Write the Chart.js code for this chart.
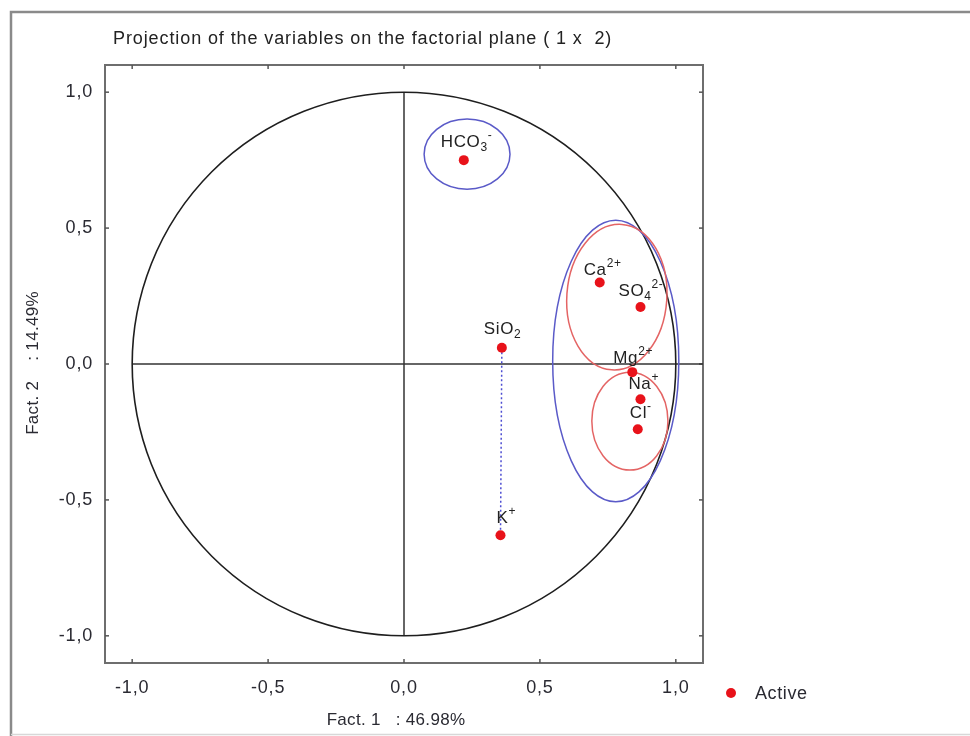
<!DOCTYPE html>
<html>
<head>
<meta charset="utf-8">
<script src="https://cdn.jsdelivr.net/npm/chart.js@4.4.1/dist/chart.umd.min.js"></script>
<style>
  html, body { margin: 0; padding: 0; background: #fff; }
  canvas { display: block; }
</style>
</head>
<body>
<canvas id="c" width="970" height="736"></canvas>
<script>
// Variable names, written as base|subscript|superscript
const variables = ['HCO|3|-', 'Ca||2+', 'SO|4|2-', 'Mg||2+', 'Na||+', 'Cl||-', 'SiO|2|', 'K||+'];
// Coordinates of each variable on factor 1 and factor 2
const fact1 = [0.22, 0.72, 0.87, 0.84, 0.87, 0.86, 0.36, 0.355];
const fact2 = [0.75, 0.30, 0.21, -0.03, -0.13, -0.24, 0.06, -0.63];
const tickValues = [-1, -0.5, 0, 0.5, 1];
const seriesName = 'Active';
const chartTitle = 'Projection of the variables on the factorial plane ( 1 x  2)';
const xTitle = 'Fact. 1   : 46.98%';
const yTitle = 'Fact. 2    : 14.49%';

// Label anchor (left edge, baseline) relative to each point, in pixels
const labelOffsets = [[-23, -13], [-16, -7], [-22, -11], [-19, -9], [-12, -10], [-8, -11], [-18, -14], [-4, -12]];

// Group outlines in factor units: centre, radii, tilt (degrees), colour
const groupEllipses = [
  { cx: 0.232, cy: 0.772, rx: 0.158, ry: 0.129, rot: 0, color: '#5a5ac8' },
  { cx: 0.779, cy: 0.011, rx: 0.232, ry: 0.518, rot: 0, color: '#5a5ac8' },
  { cx: 0.783, cy: 0.246, rx: 0.184, ry: 0.268, rot: 4, color: '#e46464' },
  { cx: 0.831, cy: -0.21, rx: 0.140, ry: 0.180, rot: 0, color: '#e46464' }
];
// Dotted link between SiO2 and K+
const linkPair = [6, 7];

const FONT = '"Liberation Sans", Arial, sans-serif';
const POINT_COLOR = '#e8121a';
const TEXT_COLOR = '#2a2a32';

function fmt(v) { return Number(v).toFixed(1).replace('.', ','); }

function seg(ctx, x1, y1, x2, y2) {
  ctx.beginPath(); ctx.moveTo(x1, y1); ctx.lineTo(x2, y2); ctx.stroke();
}

function drawRich(ctx, markup, x, y) {
  const [base, sub, sup] = markup.split('|');
  ctx.font = '17px ' + FONT;
  ctx.fillText(base, x, y);
  x += ctx.measureText(base).width;
  if (sub) {
    ctx.font = '12px ' + FONT;
    ctx.fillText(sub, x, y + 4);
    x += ctx.measureText(sub).width;
  }
  if (sup) {
    ctx.font = '12px ' + FONT;
    ctx.fillText(sup, x, y - 8);
  }
}

const decor = {
  id: 'decor',
  beforeDraw(chart) {
    const ctx = chart.ctx;
    ctx.save();
    ctx.fillStyle = '#fff';
    ctx.fillRect(0, 0, chart.width, chart.height);
    ctx.restore();
    // wide-set tick lettering
    ctx.letterSpacing = '0.8px';
  },
  beforeDatasetsDraw(chart) {
    const { ctx, chartArea: a, scales: { x, y } } = chart;
    ctx.letterSpacing = '0px';
    ctx.save();
    // plot frame
    ctx.strokeStyle = '#6e6e6e';
    ctx.lineWidth = 2;
    ctx.strokeRect(a.left, a.top, a.right - a.left, a.bottom - a.top);
    // inward tick marks on all four sides
    ctx.lineWidth = 1.5;
    ctx.strokeStyle = '#555';
    tickValues.forEach(v => {
      const px = x.getPixelForValue(v), py = y.getPixelForValue(v);
      seg(ctx, px, a.top, px, a.top + 4);
      seg(ctx, px, a.bottom, px, a.bottom - 4);
      seg(ctx, a.left, py, a.left + 4, py);
      seg(ctx, a.right, py, a.right - 4, py);
    });
    // axes through the origin
    const ox = x.getPixelForValue(0), oy = y.getPixelForValue(0);
    ctx.strokeStyle = '#333';
    ctx.lineWidth = 1.5;
    seg(ctx, x.getPixelForValue(-1), oy, a.right, oy);
    seg(ctx, ox, y.getPixelForValue(1), ox, y.getPixelForValue(-1));
    // correlation circle
    const rX = x.getPixelForValue(1) - ox, rY = oy - y.getPixelForValue(1);
    ctx.strokeStyle = '#1e1e1e';
    ctx.lineWidth = 1.6;
    ctx.beginPath();
    ctx.ellipse(ox, oy, rX, rY, 0, 0, Math.PI * 2);
    ctx.stroke();
    // group outlines
    groupEllipses.forEach(e => {
      const cx = x.getPixelForValue(e.cx), cy = y.getPixelForValue(e.cy);
      const rx = x.getPixelForValue(e.cx + e.rx) - cx;
      const ry = cy - y.getPixelForValue(e.cy + e.ry);
      ctx.strokeStyle = e.color;
      ctx.lineWidth = 1.5;
      ctx.beginPath();
      ctx.ellipse(cx, cy, rx, ry, e.rot * Math.PI / 180, 0, Math.PI * 2);
      ctx.stroke();
    });
    // dotted link
    const [i, j] = linkPair;
    ctx.strokeStyle = '#4d4dd2';
    ctx.lineWidth = 1.5;
    ctx.setLineDash([2, 2.5]);
    seg(ctx, x.getPixelForValue(fact1[i]), y.getPixelForValue(fact2[i]),
             x.getPixelForValue(fact1[j]), y.getPixelForValue(fact2[j]));
    ctx.setLineDash([]);
    ctx.restore();
  },
  afterDatasetsDraw(chart) {
    const { ctx, scales: { x, y } } = chart;
    ctx.save();
    ctx.fillStyle = '#222';
    ctx.textBaseline = 'alphabetic';
    ctx.textAlign = 'left';
    ctx.letterSpacing = '0.6px';
    variables.forEach((name, k) => {
      const px = x.getPixelForValue(fact1[k]), py = y.getPixelForValue(fact2[k]);
      drawRich(ctx, name, px + labelOffsets[k][0], py + labelOffsets[k][1]);
    });
    ctx.restore();
  },
  afterDraw(chart) {
    const ctx = chart.ctx;
    ctx.save();
    // outer frame
    ctx.strokeStyle = '#8a8a8a';
    ctx.lineWidth = 2.5;
    ctx.beginPath();
    ctx.moveTo(11, 736); ctx.lineTo(11, 12); ctx.lineTo(970, 12);
    ctx.stroke();
    ctx.strokeStyle = '#d8d8d8';
    ctx.lineWidth = 1.5;
    seg(ctx, 11, 734.5, 970, 734.5);

    ctx.fillStyle = '#222';
    ctx.textBaseline = 'middle';
    // title
    ctx.font = '18px ' + FONT;
    ctx.letterSpacing = '0.9px';
    ctx.textAlign = 'left';
    ctx.fillText(chartTitle, 113, 39);
    // axis titles
    ctx.font = '17px ' + FONT;
    ctx.fillStyle = TEXT_COLOR;
    ctx.letterSpacing = '0.3px';
    ctx.textAlign = 'center';
    ctx.fillText(xTitle, 396, 720);
    ctx.save();
    ctx.translate(33, 363);
    ctx.rotate(-Math.PI / 2);
    ctx.fillText(yTitle, 0, 0);
    ctx.restore();
    // legend
    const ds = chart.data.datasets[0];
    ctx.fillStyle = ds.backgroundColor;
    ctx.beginPath();
    ctx.arc(731, 693, 5, 0, Math.PI * 2);
    ctx.fill();
    ctx.fillStyle = TEXT_COLOR;
    ctx.textAlign = 'left';
    ctx.font = '18px ' + FONT;
    ctx.letterSpacing = '0.6px';
    ctx.fillText(ds.label, 755, 694);
    ctx.restore();
    chart.ctx.letterSpacing = '0px';
  }
};

const tickFont = { family: FONT, size: 18 };

new Chart(document.getElementById('c'), {
  type: 'scatter',
  data: {
    datasets: [{
      label: seriesName,
      data: fact1.map((v, k) => ({ x: v, y: fact2[k] })),
      backgroundColor: POINT_COLOR,
      borderColor: POINT_COLOR,
      borderWidth: 0,
      pointRadius: 5,
      pointHoverRadius: 5
    }]
  },
  options: {
    responsive: false,
    animation: false,
    devicePixelRatio: 1,
    events: [],
    layout: { padding: { left: 0, right: 267, top: 65, bottom: 0 } },
    plugins: { legend: { display: false }, title: { display: false }, tooltip: { enabled: false } },
    scales: {
      x: {
        type: 'linear', position: 'bottom', min: -1.1, max: 1.1,
        afterBuildTicks: s => { s.ticks = tickValues.map(v => ({ value: v })); },
        afterFit: s => { s.height = 73; },
        grid: { display: false, drawTicks: false },
        border: { display: false },
        ticks: { padding: 14, color: TEXT_COLOR, font: tickFont, callback: v => fmt(v) }
      },
      y: {
        type: 'linear', position: 'left', min: -1.1, max: 1.1,
        afterBuildTicks: s => { s.ticks = tickValues.map(v => ({ value: v })); },
        afterFit: s => { s.width = 105; },
        grid: { display: false, drawTicks: false },
        border: { display: false },
        ticks: { padding: 12, color: TEXT_COLOR, font: tickFont, callback: v => fmt(v) }
      }
    }
  },
  plugins: [decor]
});
</script>
</body>
</html>
